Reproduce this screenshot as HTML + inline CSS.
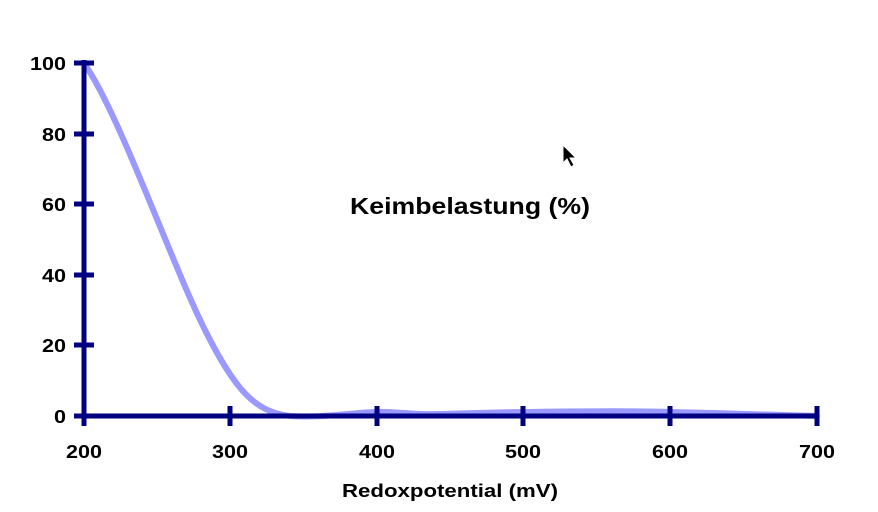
<!DOCTYPE html>
<html><head><style>body{margin:0;background:#fff}svg{display:block}</style></head><body>
<svg width="878" height="512" xmlns="http://www.w3.org/2000/svg" font-family="Liberation Sans, sans-serif" font-weight="bold">
<rect width="878" height="512" fill="#fff"/>
<path d="M84,63 C120,115 170,260 205,330 C235,390 255,412 290,416 C320,418 350,413 375,412 C395,411 410,415 440,414 C480,413 500,412 530,412 C600,411 640,411 670,412 C720,413 780,415 817,416" fill="none" stroke="#9999ff" stroke-width="6" stroke-linecap="round"/>
<g stroke="#000080" stroke-width="5">
<line x1="84" y1="60" x2="84" y2="426"/>
<line x1="82" y1="416" x2="819" y2="416"/>
<line x1="74" y1="63" x2="94" y2="63"/>
<line x1="74" y1="134" x2="94" y2="134"/>
<line x1="74" y1="204" x2="94" y2="204"/>
<line x1="74" y1="275" x2="94" y2="275"/>
<line x1="74" y1="345" x2="94" y2="345"/>
<line x1="74" y1="416" x2="94" y2="416"/>
<line x1="230" y1="406" x2="230" y2="426"/>
<line x1="377" y1="406" x2="377" y2="426"/>
<line x1="523" y1="406" x2="523" y2="426"/>
<line x1="670" y1="406" x2="670" y2="426"/>
<line x1="817" y1="406" x2="817" y2="426"/>
</g>
<g font-size="18" fill="#000" lengthAdjust="spacingAndGlyphs">
<text x="30" y="70" textLength="36" lengthAdjust="spacingAndGlyphs">100</text>
<text x="42" y="141" textLength="24" lengthAdjust="spacingAndGlyphs">80</text>
<text x="42" y="211" textLength="24" lengthAdjust="spacingAndGlyphs">60</text>
<text x="42" y="282" textLength="24" lengthAdjust="spacingAndGlyphs">40</text>
<text x="42" y="352" textLength="24" lengthAdjust="spacingAndGlyphs">20</text>
<text x="54" y="423" textLength="12" lengthAdjust="spacingAndGlyphs">0</text>
<text x="66" y="458" textLength="36" lengthAdjust="spacingAndGlyphs">200</text>
<text x="212" y="458" textLength="36" lengthAdjust="spacingAndGlyphs">300</text>
<text x="359" y="458" textLength="36" lengthAdjust="spacingAndGlyphs">400</text>
<text x="505" y="458" textLength="36" lengthAdjust="spacingAndGlyphs">500</text>
<text x="652" y="458" textLength="36" lengthAdjust="spacingAndGlyphs">600</text>
<text x="799" y="458" textLength="36" lengthAdjust="spacingAndGlyphs">700</text>
<text x="342" y="497" textLength="216" lengthAdjust="spacingAndGlyphs">Redoxpotential (mV)</text>
<text x="350" y="214" font-size="23" textLength="240" lengthAdjust="spacingAndGlyphs">Keimbelastung (%)</text>
</g>
<path d="M563,145 L563,163 L567,159 L571,167 L574,165 L570,158 L576,158 Z" fill="#000" stroke="#fff" stroke-width="1"/>
</svg>
</body></html>
